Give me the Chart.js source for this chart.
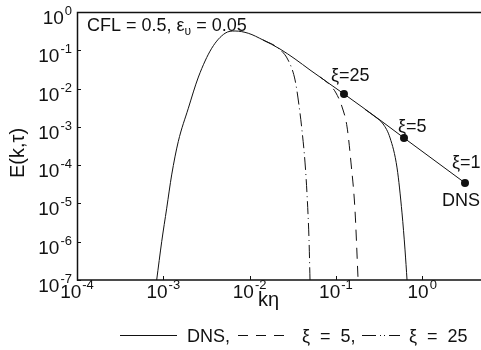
<!DOCTYPE html>
<html>
<head>
<meta charset="utf-8">
<script src="https://cdn.jsdelivr.net/npm/chart.js@4"></script>
<style>
  body { margin: 0; background: #fff; }
  canvas { display: block; }
</style>
</head>
<body>
<canvas id="spectrum" width="481" height="350"></canvas>
<script>
// full DNS spectrum, runs out to the last resolved wavenumber
const dnsK = [8.38e-4, 9.58e-4, 1.095e-3, 1.25e-3, 1.49e-3, 1.95e-3, 2.55e-3, 3.64e-3, 5.19e-3, 6.78e-3,
              9.66e-3, 1.43e-2, 2.25e-2, 3.36e-2, 5.01e-2, 0.124, 0.324, 0.615, 3.13];
const dnsE = [1e-7, 1.0e-6, 7.5e-6, 5.55e-5, 4.11e-4, 3.06e-3, 2.0e-2, 0.113, 0.278, 0.319,
              0.278, 0.186, 0.108, 0.0593, 0.0306, 7.23e-3, 1.51e-3, 5.13e-4, 3.43e-5];

// filtered runs, each leaves the DNS curve at its cutoff
const xi1K = [0.217, 0.284, 0.352, 0.424, 0.511, 0.583, 0.632, 0.667];
const xi1E = [2.86e-3, 1.84e-3, 1.19e-3, 5.13e-4, 8.45e-5, 5.65e-6, 6.1e-7, 1e-7];

const xi5K = [0.0655, 0.0855, 0.1002, 0.1178, 0.1346, 0.1496, 0.1663, 0.1803];
const xi5E = [0.0201, 0.0124, 7.68e-3, 3.31e-3, 9.94e-4, 1.14e-4, 6.76e-6, 1.13e-7];

const xi25K = [0.0143, 0.0213, 0.0279, 0.0336, 0.0373, 0.0404, 0.0439, 0.0463, 0.0488, 0.0501];
const xi25E = [0.186, 0.115, 0.0558, 0.0168, 3.73e-3, 8.3e-4, 1.14e-4, 1.67e-5, 1.11e-6, 1e-7];

// cutoff markers on the DNS line
const markK = [0.124, 0.615, 3.13];
const markE = [7.23e-3, 5.13e-4, 3.43e-5];
const markLabels = ["ξ=25", "ξ=5", "ξ=1"];

const xExp = [-4, -3, -2, -1, 0];
const yExp = [0, -1, -2, -3, -4, -5, -6, -7];

const FONT = "'Liberation Sans', Arial, sans-serif";
const INK = "#111";
const DASH = [11, 7];
const DASH_DOT = [13, 4, 1, 4];

const pts = (ks, es) => ks.map((k, i) => ({ x: k, y: es[i] }));

function curve(ks, es, dash) {
  return {
    data: pts(ks, es),
    borderColor: INK,
    borderWidth: 1,
    borderDash: dash,
    pointRadius: 0,
    fill: false,
    cubicInterpolationMode: "monotone"
  };
}

// label with a raised exponent, e.g. 10^-3
function powerLabel(ctx, exp, x, y, align) {
  ctx.font = "19px " + FONT;
  const baseW = ctx.measureText("10").width;
  ctx.font = "13px " + FONT;
  const supW = ctx.measureText(String(exp)).width;
  const total = baseW + supW + 1;
  const left = align === "right" ? x - total : x - total / 2;
  ctx.textAlign = "left";
  ctx.font = "19px " + FONT;
  ctx.fillText("10", left, y);
  ctx.font = "13px " + FONT;
  ctx.fillText(String(exp), left + baseW + 1, y - 9);
}

const decorations = {
  id: "decorations",
  afterDraw(chart) {
    const { ctx, chartArea: a, scales: { x, y } } = chart;
    ctx.save();
    ctx.fillStyle = INK;
    ctx.strokeStyle = INK;

    // frame: left, bottom and top edges
    ctx.lineWidth = 1.5;
    ctx.beginPath();
    ctx.moveTo(a.right, a.top + 0.5);
    ctx.lineTo(a.left + 0.5, a.top + 0.5);
    ctx.lineTo(a.left + 0.5, a.bottom);
    ctx.lineTo(a.right, a.bottom);
    ctx.stroke();

    // inward decade ticks
    ctx.lineWidth = 1;
    ctx.beginPath();
    xExp.forEach(e => {
      const px = Math.round(x.getPixelForValue(Math.pow(10, e))) + 0.5;
      ctx.moveTo(px, a.bottom);
      ctx.lineTo(px, a.bottom - 4);
    });
    yExp.forEach(e => {
      const py = Math.round(y.getPixelForValue(Math.pow(10, e))) + 0.5;
      ctx.moveTo(a.left, py);
      ctx.lineTo(a.left + 4, py);
    });
    ctx.stroke();

    // tick labels
    ctx.textBaseline = "alphabetic";
    xExp.forEach(e => powerLabel(ctx, e, x.getPixelForValue(Math.pow(10, e)), a.bottom + 18, "center"));
    yExp.forEach(e => powerLabel(ctx, e, a.left - 5, y.getPixelForValue(Math.pow(10, e)) + 12, "right"));

    // axis titles
    ctx.font = "20px " + FONT;
    ctx.textAlign = "left";
    ctx.fillText("kη", 258, a.bottom + 26);
    ctx.save();
    ctx.translate(24, 153);
    ctx.rotate(-Math.PI / 2);
    ctx.textAlign = "center";
    ctx.fillText("E(k,τ)", 0, 0);
    ctx.restore();

    // run parameters
    ctx.textAlign = "left";
    ctx.font = "18px " + FONT;
    let tx = a.left + 10;
    const ty = a.top + 19;
    ctx.fillText("CFL = 0.5, ε", tx, ty);
    tx += ctx.measureText("CFL = 0.5, ε").width;
    ctx.font = "12px " + FONT;
    ctx.fillText("υ", tx, ty + 4);
    tx += ctx.measureText("υ").width;
    ctx.font = "18px " + FONT;
    ctx.fillText(" = 0.05", tx, ty);

    // marker labels
    ctx.font = "18px " + FONT;
    const offsets = [[-13, -13], [-6, -6], [-13, -15]];
    markK.forEach((k, i) => {
      const px = x.getPixelForValue(k), py = y.getPixelForValue(markE[i]);
      ctx.fillText(markLabels[i], px + offsets[i][0], py + offsets[i][1]);
    });
    const last = markK.length - 1;
    ctx.fillText("DNS", x.getPixelForValue(markK[last]) - 23, y.getPixelForValue(markE[last]) + 23);

    // legend row
    const ly = 335.5;
    const items = [
      { x0: 120, x1: 177, dash: [], text: "DNS,", tx: 187 },
      { x0: 238, x1: 285, dash: [10, 8], text: "ξ  =  5,", tx: 302 },
      { x0: 362, x1: 400, dash: [14, 4, 1, 3, 1, 4], text: "ξ  =  25", tx: 409 }
    ];
    items.forEach(it => {
      ctx.lineWidth = 1;
      ctx.setLineDash(it.dash);
      ctx.beginPath();
      ctx.moveTo(it.x0, ly);
      ctx.lineTo(it.x1, ly);
      ctx.stroke();
      ctx.setLineDash([]);
      ctx.font = "18px " + FONT;
      ctx.fillText(it.text, it.tx, 342);
    });
    ctx.restore();
  }
};

new Chart(document.getElementById("spectrum"), {
  type: "line",
  data: {
    datasets: [
      curve(dnsK, dnsE, []),
      curve(xi1K, xi1E, []),
      curve(xi5K, xi5E, DASH),
      curve(xi25K, xi25E, DASH_DOT),
      {
        data: pts(markK, markE),
        showLine: false,
        pointRadius: 4,
        pointBackgroundColor: INK,
        pointBorderColor: INK,
        pointBorderWidth: 0
      }
    ]
  },
  options: {
    responsive: false,
    animation: false,
    layout: { autoPadding: false, padding: { left: 77, top: 12, right: 0, bottom: 70 } },
    plugins: { legend: { display: false }, tooltip: { enabled: false } },
    scales: {
      x: { type: "logarithmic", display: false, min: 1e-4, max: Math.pow(10, 0.681) },
      y: { type: "logarithmic", display: false, min: 1e-7, max: 1 }
    }
  },
  plugins: [decorations]
});
</script>
</body>
</html>
